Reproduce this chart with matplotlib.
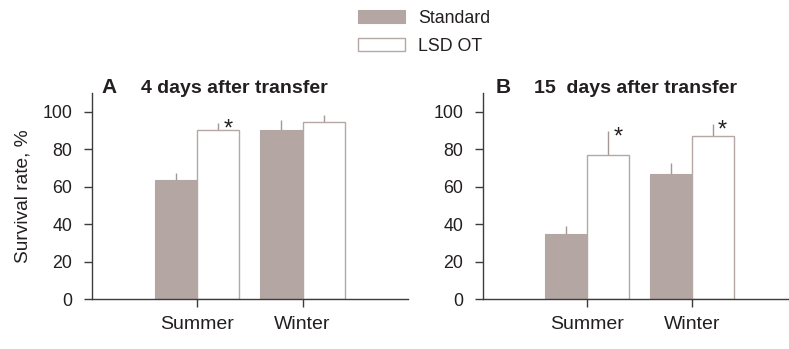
import numpy as np
import matplotlib
matplotlib.use("Agg")
import matplotlib.pyplot as plt

plt.rcParams['font.family'] = ['Liberation Sans', 'DejaVu Sans']

# survival rate (%) after transfer, mean and upper error
seasons = ['Summer', 'Winter']
series = ['Standard', 'LSD OT']

std_4d = [63.3, 90.5]
std_4d_err = [3.9, 5.2]
lsd_4d = [90.0, 94.7]
lsd_4d_err = [4.0, 3.5]
sig_4d = [True, False]

std_15d = [34.5, 66.6]
std_15d_err = [4.7, 6.1]
lsd_15d = [77.0, 87.2]
lsd_15d_err = [12.5, 6.4]
sig_15d = [True, True]

panels = [('A', '4 days after transfer', std_4d, std_4d_err, lsd_4d, lsd_4d_err, sig_4d),
          ('B', '15  days after transfer', std_15d, std_15d_err, lsd_15d, lsd_15d_err, sig_15d)]

fill_std = '#b3a6a3'
edge_lsd = '#b4a7a4'
err_col = '#a49794'
axis_col = '#3c3c3c'
text_col = '#231f20'

W, H = 789, 349
fig = plt.figure(figsize=(W / 100, H / 100), dpi=100)

# axes boxes in pixels: left, top, right, bottom
boxes = [(91.7, 93, 408, 299), (482.7, 93, 796.7, 299)]
letter_x = [101.7, 496]
title_x = [140.7, 534]

w = 0.4
x = np.arange(len(seasons))
handles = None
for i, (letter, title, std, std_err, lsd, lsd_err, sig) in enumerate(panels):
    l, t, r, b = boxes[i]
    ax = fig.add_axes([l / W, 1 - b / H, (r - l) / W, (b - t) / H])

    b1 = ax.bar(x - w / 2, std, w, color=fill_std, edgecolor=fill_std, linewidth=0.8,
                label=series[0], zorder=2)
    b2 = ax.bar(x + w / 2, lsd, w, color='white', edgecolor=edge_lsd, linewidth=1.0,
                label=series[1], zorder=2)
    ax.errorbar(x - w / 2, std, yerr=[np.zeros(len(std)), std_err], fmt='none',
                ecolor=err_col, elinewidth=1.0, capsize=0, zorder=1)
    ax.errorbar(x + w / 2, lsd, yerr=[np.zeros(len(lsd)), lsd_err], fmt='none',
                ecolor=err_col, elinewidth=1.0, capsize=0, zorder=1)
    if handles is None:
        handles = [b1, b2]

    # significance marks next to the LSD OT error bars
    for xi, v, e, s in zip(x, lsd, lsd_err, sig):
        if s:
            ax.annotate('*', xy=(xi + w / 2, v + e), xytext=(7, -9),
                        textcoords='offset points', ha='center', va='baseline',
                        fontsize=17, color=text_col)

    ax.set_xlim(-1, 2)
    ax.set_ylim(0, 110)
    ax.set_yticks(np.arange(0, 101, 20))
    ax.set_xticks(x)
    ax.set_xticklabels(seasons, fontsize=14, color=text_col)
    ax.tick_params(axis='y', labelsize=12.8, labelcolor=text_col, length=5.5, pad=8.5,
                   width=1, color=axis_col)
    ax.tick_params(axis='x', length=5.5, pad=7, width=1, color=axis_col)
    for side in ['top', 'right']:
        ax.spines[side].set_visible(False)
    for side in ['left', 'bottom']:
        ax.spines[side].set_color(axis_col)
        ax.spines[side].set_linewidth(1.0)

    if i == 0:
        ax.set_ylabel('Survival rate, %', fontsize=13.8, color=text_col, labelpad=8)

    fig.text(letter_x[i] / W, 1 - 93 / H, letter, fontsize=15, fontweight='bold',
             color=text_col, va='baseline')
    fig.text(title_x[i] / W, 1 - 93 / H, title, fontsize=14, fontweight='bold',
             color=text_col, va='baseline')

fig.legend(handles=handles, labels=series, loc='upper left',
           bbox_to_anchor=(358.3 / W, 1 - 10 / H), frameon=False, fontsize=12.8,
           handlelength=2.65, handleheight=0.75, handletextpad=0.72,
           labelspacing=0.62, borderpad=0, borderaxespad=0, labelcolor=text_col)

fig.savefig('out.png', dpi=100)
